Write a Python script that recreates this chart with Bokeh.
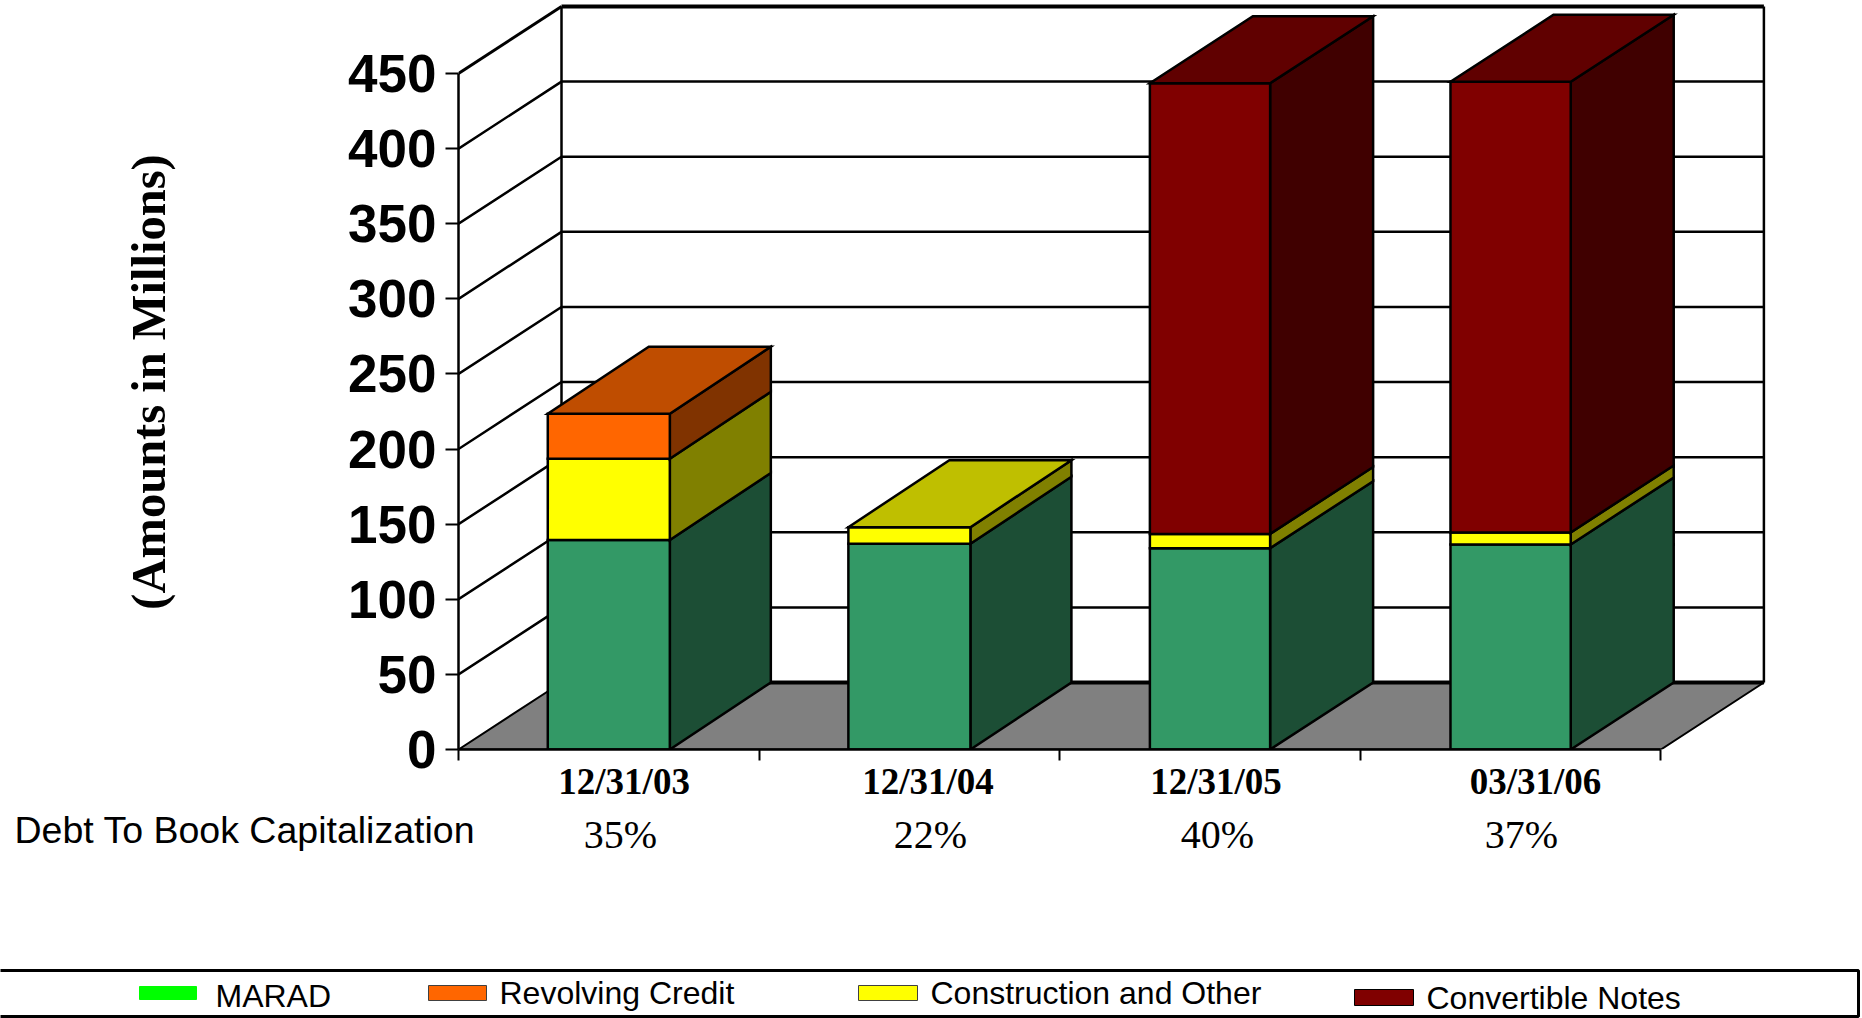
from math import pi

from bokeh.core.properties import value
from bokeh.embed import file_html
from bokeh.layouts import column, row
from bokeh.models import FixedTicker, LinearAxis, Range1d
from bokeh.plotting import figure
from bokeh.resources import INLINE

# Chart data, in millions of dollars
dates = ["12/31/03", "12/31/04", "12/31/05", "03/31/06"]
debt_to_cap = ["35%", "22%", "40%", "37%"]
marad = [139.5, 137, 134, 136.5]
construction = [54, 11, 9.5, 8]
revolving = [30, 0, 0, 0]
convertible = [0, 0, 300, 300]
y_ticks = [0, 50, 100, 150, 200, 250, 300, 350, 400, 450]

# Stack order with front, top and side face colours
stack = [
    (marad, "#339966", "#267350", "#1C4E35"),
    (construction, "#FFFF00", "#BFBF00", "#808000"),
    (revolving, "#FF6600", "#BF4D00", "#803300"),
    (convertible, "#800000", "#600000", "#400000"),
]

# Page geometry
W, H = 1862, 1018
LEFT_STRIP = 200
LEFT, BASE, AXIS_ROOM = 458, 749, 58
TOP_H = BASE + AXIS_ROOM
PX_PER_CAT = 300.6
PX_PER_UNIT = 1.5022
DX = 103 / PX_PER_CAT
DY = 67 / PX_PER_UNIT
BAR_W = [0.406, 0.406, 0.4, 0.4]
BAR_DEPTH = [101 / PX_PER_CAT, 101 / PX_PER_CAT, DX, DX]
DATE_LABEL_X = [623.5, 927.5, 1215.5, 1535]
n = len(dates)
y_max = y_ticks[-1]
OUTLINE = 2.5

p = figure(
    width=W - LEFT_STRIP, height=TOP_H, output_backend="svg", toolbar_location=None,
    x_range=Range1d(0, (W - LEFT) / PX_PER_CAT),
    y_range=Range1d(0, BASE / PX_PER_UNIT),
    min_border_left=LEFT - LEFT_STRIP, min_border_right=0, min_border_top=0,
    min_border_bottom=AXIS_ROOM, outline_line_color=None,
)
p.grid.visible = False

# Floor, back wall and gridlines of the 3D box
p.patch([0, n, n + DX, DX], [0, 0, DY, DY], fill_color="#808080", line_color="black", line_width=2)
p.line([DX, n + DX], [DY, DY], line_color="black", line_width=4)
p.line([DX, DX], [DY, y_max + DY], line_color="black", line_width=OUTLINE)
p.line([n + DX, n + DX], [DY, y_max + DY], line_color="black", line_width=OUTLINE)
p.line([DX, n + DX], [y_max + DY, y_max + DY], line_color="black", line_width=4)
p.line([0, DX], [y_max, y_max + DY], line_color="black", line_width=3)
p.multi_line(
    [[0, DX, n + DX] for t in y_ticks[1:-1]],
    [[t, t + DY, t + DY] for t in y_ticks[1:-1]],
    line_color="black", line_width=OUTLINE,
)


def add_face(xs, ys, colour):
    p.patch(xs, ys, fill_color=colour, line_color="black", line_width=OUTLINE, line_join="miter")


# Stacked bars, bottom segment first
for i in range(n):
    x0 = i + 0.5 - BAR_W[i] / 2
    x1 = i + 0.5 + BAR_W[i] / 2
    d = BAR_DEPTH[i]
    bottom = 0.0
    top_colour = None
    for values, front, top_face, side in stack:
        v = values[i]
        if v <= 0:
            continue
        t = bottom + v
        add_face([x1, x1 + d, x1 + d, x1], [bottom, bottom + DY, t + DY, t], side)
        add_face([x0, x1, x1, x0], [bottom, bottom, t, t], front)
        bottom = t
        top_colour = top_face
    add_face([x0, x1, x1 + d, x0 + d], [bottom, bottom, bottom + DY, bottom + DY], top_colour)

# Value axis
ax = p.yaxis[0]
ax.ticker = FixedTicker(ticks=y_ticks)
ax.bounds = (0, y_max)
ax.major_tick_in = 0
ax.major_tick_out = 13
ax.minor_tick_line_color = None
ax.major_tick_line_width = 2
ax.major_tick_line_color = "black"
ax.axis_line_width = OUTLINE
ax.axis_line_color = "black"
ax.major_label_standoff = 9
ax.major_label_text_font = "Liberation Sans"
ax.major_label_text_font_style = "bold"
ax.major_label_text_font_size = "53px"
ax.major_label_text_color = "black"

# Category axis: tick marks on the boundaries between categories
bx = p.xaxis[0]
bx.ticker = FixedTicker(ticks=list(range(n + 1)))
bx.bounds = (0, n)
bx.major_tick_in = 0
bx.major_tick_out = 11
bx.minor_tick_line_color = None
bx.major_tick_line_width = 2
bx.major_tick_line_color = "black"
bx.axis_line_width = OUTLINE
bx.axis_line_color = "black"
bx.major_label_standoff = 0
bx.major_label_text_font_size = "0px"
bx.major_label_text_color = None

# Second axis below it carries only the date labels
date_ticks = [round((x - LEFT) / PX_PER_CAT, 3) for x in DATE_LABEL_X]
date_axis = LinearAxis(
    ticker=FixedTicker(ticks=date_ticks),
    major_label_overrides=dict(zip(date_ticks, dates)),
    axis_line_color=None, major_tick_line_color=None, minor_tick_line_color=None,
    major_tick_in=0, major_tick_out=0, major_label_standoff=0,
    major_label_text_font="Liberation Serif", major_label_text_font_style="bold",
    major_label_text_font_size="37px", major_label_text_color="black",
)
p.add_layout(date_axis, "below")

# Strip left of the axis for the rotated title, in page pixels
side_fig = figure(
    width=LEFT_STRIP, height=TOP_H, output_backend="svg", toolbar_location=None,
    x_range=Range1d(0, LEFT_STRIP), y_range=Range1d(TOP_H, 0),
    min_border=0, outline_line_color=None,
)
side_fig.axis.visible = False
side_fig.grid.visible = False
side_fig.text(
    [148], [411], text=["(Amounts in Millions)"], angle=pi / 2,
    text_font=value("Liberation Serif"), text_font_size="48.5px", text_font_style="bold",
    text_align="center", text_baseline="middle", text_color="black",
)

# Lower band with the ratio row and the legend strip, in page pixels
low = figure(
    width=W, height=H - TOP_H, output_backend="svg", toolbar_location=None,
    x_range=Range1d(0, W), y_range=Range1d(H, TOP_H),
    min_border=0, outline_line_color=None,
)
low.axis.visible = False
low.grid.visible = False


def add_text(labels, xs, y, font, size, style="normal", align="center"):
    low.text(
        xs, [y] * len(xs), text=labels,
        text_font=value(font), text_font_size=size, text_font_style=style,
        text_align=align, text_baseline="middle", text_color="black",
    )


add_text(debt_to_cap, [620, 930, 1217, 1521], 834, "Liberation Serif", "40px")
add_text(["Debt To Book Capitalization"], [14], 829, "Liberation Sans", "37.5px", align="left")

low.quad(left=[-3], right=[1858], top=[970], bottom=[1016],
         fill_color=None, line_color="black", line_width=3)
low.line([1755, 1755], [1016, 1018], line_color="black", line_width=4)

legend_rows = [
    ("MARAD", "#00FF00", "#00FF00", (139, 196, 986, 999), (215, 995)),
    ("Revolving Credit", "#FF6600", "#404040", (428, 486, 985, 1000), (499, 992)),
    ("Construction and Other", "#FFFF00", "#404040", (858, 917, 985, 1000), (930, 992)),
    ("Convertible Notes", "#800000", "black", (1354, 1413, 989, 1005), (1426, 997)),
]
for name, colour, edge, (l, r, t, b), (tx, ty) in legend_rows:
    low.quad(left=[l], right=[r], top=[t], bottom=[b], fill_color=colour, line_color=edge, line_width=1)
    add_text([name], [tx], ty, "Liberation Sans", "32px", align="left")

page = column(row(side_fig, p, spacing=0), low, spacing=0)
open("out.html", "w").write(file_html(page, INLINE))
